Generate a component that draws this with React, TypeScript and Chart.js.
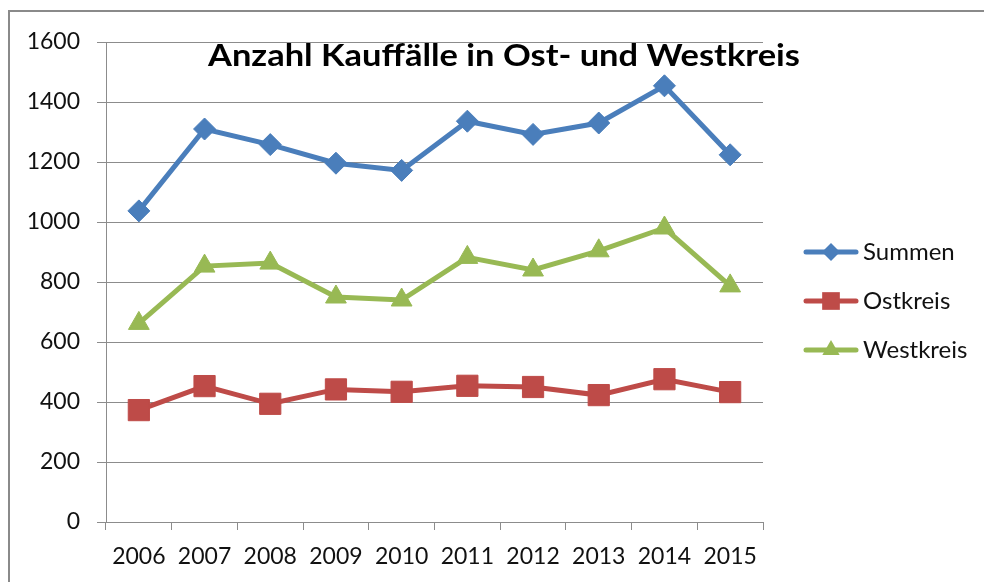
import React, { useEffect, useRef } from 'react';
import { Chart, registerables } from 'chart.js';

Chart.register(...registerables);

const years = ['2006', '2007', '2008', '2009', '2010', '2011', '2012', '2013', '2014', '2015'];
const summen = [1037, 1310, 1258, 1196, 1172, 1336, 1292, 1330, 1454, 1224];
const ostkreis = [373, 453, 394, 442, 434, 454, 450, 423, 476, 433];
const westkreis = [662, 853, 863, 750, 740, 882, 840, 904, 980, 787];
const seriesNames = ['Summen', 'Ostkreis', 'Westkreis'];
const titleText = 'Anzahl Kauffälle in Ost- und Westkreis';

const BLUE = '#4a7ebb';
const RED = '#be4b48';
const GREEN = '#98b954';
const GRID = '#8c8c8c';
const FONT = 'Lato, "Open Sans", sans-serif';

function drawMarker(ctx: CanvasRenderingContext2D, style: string, x: number, y: number, r: number, color: string) {
  ctx.save();
  ctx.fillStyle = color;
  ctx.beginPath();
  if (style === 'rectRot') {
    ctx.moveTo(x - r, y);
    ctx.lineTo(x, y - r);
    ctx.lineTo(x + r, y);
    ctx.lineTo(x, y + r);
  } else if (style === 'rect') {
    const s = r * Math.SQRT1_2;
    ctx.rect(x - s, y - s, 2 * s, 2 * s);
  } else {
    ctx.moveTo(x, y - r);
    ctx.lineTo(x + r * 0.866, y + r / 2);
    ctx.lineTo(x - r * 0.866, y + r / 2);
  }
  ctx.closePath();
  ctx.fill();
  ctx.restore();
}

const framePlugin = {
  id: 'frame',
  beforeDraw(chart: any) {
    const ctx = chart.ctx as CanvasRenderingContext2D;
    ctx.save();
    ctx.fillStyle = '#ffffff';
    ctx.fillRect(0, 0, chart.width, chart.height);
    ctx.strokeStyle = '#8a8a8a';
    ctx.lineWidth = 2;
    ctx.beginPath();
    ctx.moveTo(9, chart.height);
    ctx.lineTo(9, 11);
    ctx.lineTo(chart.width, 11);
    ctx.stroke();
    ctx.restore();
  },
  afterDraw(chart: any) {
    const ctx = chart.ctx as CanvasRenderingContext2D;
    ctx.save();
    // title (stretched horizontally to mimic Calibri's wider proportions)
    ctx.fillStyle = '#000';
    ctx.font = `bold 31px ${FONT}`;
    ctx.textAlign = 'center';
    ctx.textBaseline = 'alphabetic';
    const w = ctx.measureText(titleText).width;
    const sx = 592 / w;
    ctx.save();
    ctx.translate(504, 66);
    ctx.scale(sx, 1);
    ctx.fillText(titleText, 0, 0);
    ctx.restore();
    // legend
    chart.data.datasets.forEach((ds: any, i: number) => {
      const y = 252 + i * 49;
      ctx.strokeStyle = ds.borderColor;
      ctx.lineWidth = 5;
      ctx.lineCap = 'round';
      ctx.beginPath();
      ctx.moveTo(806, y);
      ctx.lineTo(856, y);
      ctx.stroke();
      const r = ds.pointStyle === 'rect' ? 12.5 : ds.pointStyle === 'triangle' ? 10 : 9;
      drawMarker(ctx, ds.pointStyle, 831, y, r, ds.borderColor);
      ctx.fillStyle = '#111';
      ctx.font = `24px ${FONT}`;
      ctx.textAlign = 'left';
      ctx.textBaseline = 'middle';
      ctx.fillText(ds.label, 863, y);
    });
    ctx.restore();
  },
};

export default function App() {
  const ref = useRef<HTMLCanvasElement>(null);
  useEffect(() => {
    if (!ref.current) return;
    const mk = (label: string, data: number[], color: string, pointStyle: string, radius: number) => ({
      label,
      data,
      borderColor: color,
      backgroundColor: color,
      borderWidth: 5,
      pointStyle,
      pointRadius: radius,
      pointHoverRadius: radius,
      pointBackgroundColor: color,
      pointBorderColor: color,
      pointBorderWidth: 1,
      tension: 0,
    });
    const chart = new Chart(ref.current, {
      type: 'line',
      data: {
        labels: years,
        datasets: [
          mk(seriesNames[0], summen, BLUE, 'rectRot', 11),
          mk(seriesNames[1], ostkreis, RED, 'rect', 15),
          mk(seriesNames[2], westkreis, GREEN, 'triangle', 12),
        ] as any,
      },
      options: {
        responsive: false,
        animation: false,
        layout: { padding: { left: 10, right: 221, top: 42, bottom: 0 } },
        plugins: { legend: { display: false }, title: { display: false }, tooltip: { enabled: false } },
        scales: {
          x: {
            offset: true,
            grid: { offset: true, drawOnChartArea: false, drawTicks: true, tickLength: 8, color: GRID },
            border: { color: GRID, width: 1 },
            ticks: { font: { family: FONT, size: 23 }, color: '#111', padding: 13, maxRotation: 0, autoSkip: false },
            afterFit(scale: any) { scale.height = 60; },
          },
          y: {
            min: 0,
            max: 1600,
            ticks: {
              stepSize: 200,
              font: { family: FONT, size: 23 },
              color: '#111',
              padding: 17,
              callback: (v: any) => String(v),
            },
            grid: { color: GRID, lineWidth: 1, tickLength: 9, drawTicks: true },
            border: { color: GRID, width: 1 },
            afterFit(scale: any) { scale.width = 96; },
          },
        },
      },
      plugins: [framePlugin],
    });
    return () => chart.destroy();
  }, []);
  return (
    <div style={{ position: 'absolute', left: 0, top: 0, width: 984, height: 582 }}>
      <canvas ref={ref} width={984} height={582} style={{ width: 984, height: 582, display: 'block' }} />
    </div>
  );
}
